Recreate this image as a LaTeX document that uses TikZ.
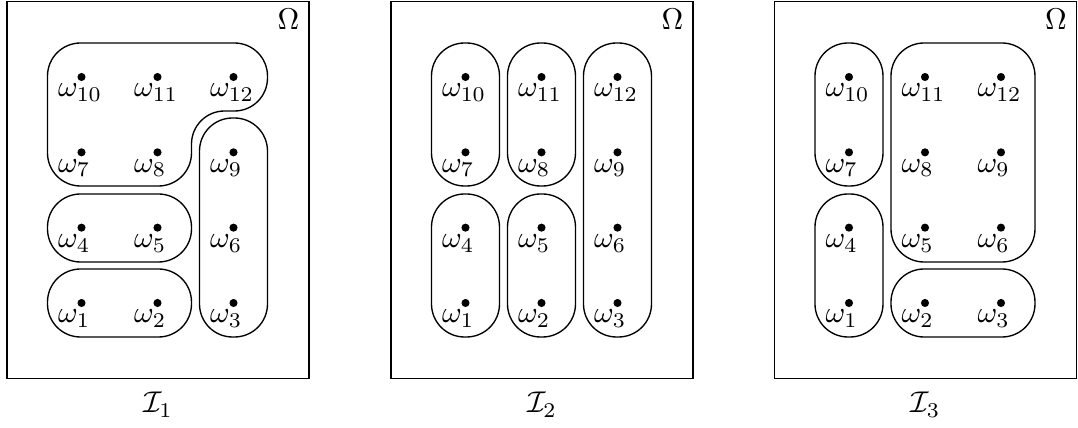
\documentclass[tikz,border=0pt]{standalone}
\usetikzlibrary{calc}
\tikzset{
  dot/.style={circle, fill=black, inner sep=0pt, minimum size=2.7pt},
  lab/.style={anchor=base west, inner sep=0pt},
  blob/.style={draw, line width=0.45pt, rounded corners=11pt},
  frame/.style={draw, line width=0.6pt},
  ttl/.style={anchor=base, inner sep=0pt},
}
\newcommand\drawpoints[1]{%
  \foreach \n in {1,...,12}{%
    \pgfmathtruncatemacro\cc{mod(\n-1,3)}%
    \pgfmathtruncatemacro\rr{3-div(\n-1,3)}%
    \pgfmathsetmacro\px{81.5+76*\cc}%
    \pgfmathsetmacro\py{77+75.33*\rr}%
    \node[dot] (#1d\n) at (\px,\py) {};
    \node[lab] (#1l\n) at ($(#1d\n)+(-24,20)$) {$\omega_{\n}$};
  }%
  \draw[frame] (7,1.5) rectangle (309,378.5);
  \node[ttl] (#1omega) at (288.5,30) {$\Omega$};
}
\begin{document}
\begin{tikzpicture}[x=0.33333pt, y=-0.33333pt]
\useasboundingbox (0,0) rectangle (1078,428);
% Panel 1
\begin{scope}
  \drawpoints{A}
  \draw[blob] (47.5,269) rectangle (191.5,337);
  \draw[blob] (47.5,194) rectangle (191.5,262);
  \draw[blob] (199.5,118) rectangle (267.5,337);
  \draw[blob] (47.5,120) -- (47.5,43) -- (267.5,43) -- (267.5,111) -- (191.5,111) -- (191.5,186) -- (47.5,186) -- cycle;
  \node[ttl] (Atitle) at (158,413) {$\mathcal{I}_1$};
\end{scope}
% Panel 2
\begin{scope}[xshift=384*0.33333pt]
  \drawpoints{B}
  \draw[blob] (47.5,43) rectangle (115.5,186);
  \draw[blob] (123.5,43) rectangle (191.5,186);
  \draw[blob] (199.5,43) rectangle (267.5,337);
  \draw[blob] (47.5,194) rectangle (115.5,337);
  \draw[blob] (123.5,194) rectangle (191.5,337);
  \node[ttl] (Btitle) at (158,413) {$\mathcal{I}_2$};
\end{scope}
% Panel 3
\begin{scope}[xshift=767.5*0.33333pt]
  \drawpoints{C}
  \draw[blob] (47.5,43) rectangle (115.5,186);
  \draw[blob] (47.5,194) rectangle (115.5,337);
  \draw[blob] (123.5,43) rectangle (267.5,262);
  \draw[blob] (123.5,269) rectangle (267.5,337);
  \node[ttl] (Ctitle) at (158,413) {$\mathcal{I}_3$};
\end{scope}
\end{tikzpicture}
\end{document}
